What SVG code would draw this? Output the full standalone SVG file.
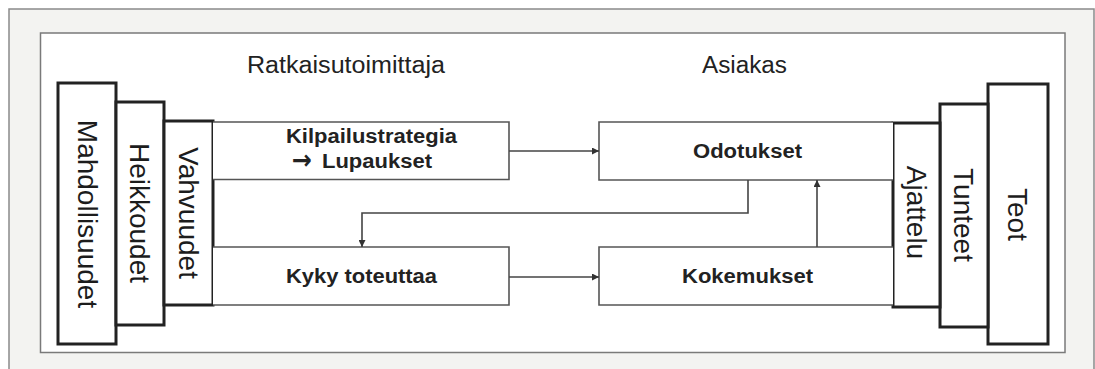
<svg xmlns="http://www.w3.org/2000/svg" width="1095" height="369" viewBox="0 0 1095 369">
  <style>
    .frame-outer { fill: #f3f3f1; stroke: #8a8a8a; stroke-width: 1.5; }
    .frame-inner { fill: #ffffff; stroke: #7a7a7a; stroke-width: 1.5; }
    .stack { fill: #ffffff; stroke: #222222; stroke-width: 3; }
    .flow { fill: #ffffff; stroke: #555555; stroke-width: 1.6; }
    .line { fill: none; stroke: #444444; stroke-width: 1.6; }
    .head { fill: #333333; }
    .title { font-family: "Liberation Sans", Arial, sans-serif; font-size: 23px; fill: #222222; }
    .label { font-family: "Liberation Sans", Arial, sans-serif; font-size: 19.5px; font-weight: bold; fill: #222222; }
    .sym { font-family: "DejaVu Sans", sans-serif; font-weight: bold; font-size: 27px; }
    .vert { font-family: "Liberation Sans", Arial, sans-serif; font-size: 28px; fill: #1c1c1c; text-anchor: middle; }
  </style>
  <defs>
    <marker id="arrow" viewBox="0 0 10 10" refX="10" refY="5" markerWidth="9" markerHeight="7" markerUnits="userSpaceOnUse" orient="auto">
      <path d="M0,0 L10,5 L0,10 Z" class="head"/>
    </marker>
  </defs>

  <!-- page frame -->
  <rect class="frame-outer" x="9" y="9" width="1085" height="380"/>
  <rect class="frame-inner" x="40.5" y="33" width="1024.5" height="319.5"/>

  <!-- column headings -->
  <text class="title" x="247" y="72.5" textLength="198" lengthAdjust="spacingAndGlyphs">Ratkaisutoimittaja</text>
  <text class="title" x="702" y="72.5" textLength="85" lengthAdjust="spacingAndGlyphs">Asiakas</text>

  <!-- supplier side stack -->
  <g id="mahdollisuudet">
    <rect class="stack" x="58" y="83" width="58" height="261"/>
    <text class="vert" transform="translate(78,214) rotate(90)">Mahdollisuudet</text>
  </g>
  <g id="heikkoudet">
    <rect class="stack" x="116" y="102" width="48" height="223"/>
    <text class="vert" transform="translate(130,213) rotate(90)">Heikkoudet</text>
  </g>
  <g id="vahvuudet">
    <rect class="stack" x="164" y="121" width="49" height="184"/>
    <text class="vert" transform="translate(178.5,213) rotate(90)">Vahvuudet</text>
  </g>

  <!-- customer side stack -->
  <g id="teot">
    <rect class="stack" x="988" y="84" width="60" height="260"/>
    <text class="vert" transform="translate(1008,214.5) rotate(90)">Teot</text>
  </g>
  <g id="tunteet">
    <rect class="stack" x="940" y="104" width="48" height="223"/>
    <text class="vert" transform="translate(954,215) rotate(90)">Tunteet</text>
  </g>
  <g id="ajattelu">
    <rect class="stack" x="893" y="123" width="47" height="184"/>
    <text class="vert" transform="translate(906.5,212.5) rotate(90)">Ajattelu</text>
  </g>

  <!-- flow boxes -->
  <g id="kilpailustrategia">
    <path class="flow" d="M213,122 H509 V179.5 H213"/>
    <text class="label" x="286" y="142.5" textLength="171" lengthAdjust="spacingAndGlyphs">Kilpailustrategia</text>
    <text class="label" y="168"><tspan class="sym" x="292" dy="1" textLength="20" lengthAdjust="spacingAndGlyphs">→</tspan><tspan x="322" dy="-1" textLength="110" lengthAdjust="spacingAndGlyphs">Lupaukset</tspan></text>
  </g>
  <g id="kyky-toteuttaa">
    <path class="flow" d="M213,247 H509 V305 H213"/>
    <text class="label" x="286" y="283" textLength="151" lengthAdjust="spacingAndGlyphs">Kyky toteuttaa</text>
  </g>
  <g id="odotukset">
    <path class="flow" d="M893,122 H599 V180 H893"/>
    <text class="label" x="693" y="157.5" textLength="109" lengthAdjust="spacingAndGlyphs">Odotukset</text>
  </g>
  <g id="kokemukset">
    <path class="flow" d="M893,247 H599 V305 H893"/>
    <text class="label" x="682" y="283" textLength="131" lengthAdjust="spacingAndGlyphs">Kokemukset</text>
  </g>

  <!-- connectors -->
  <g id="connectors">
    <path class="line" d="M509,151 H599" marker-end="url(#arrow)"/>
    <path class="line" d="M509,277 H599" marker-end="url(#arrow)"/>
    <path class="line" d="M748,180 V213 H362 V247" marker-end="url(#arrow)"/>
    <path class="line" d="M817,247 V180" marker-end="url(#arrow)"/>
  </g>
</svg>
